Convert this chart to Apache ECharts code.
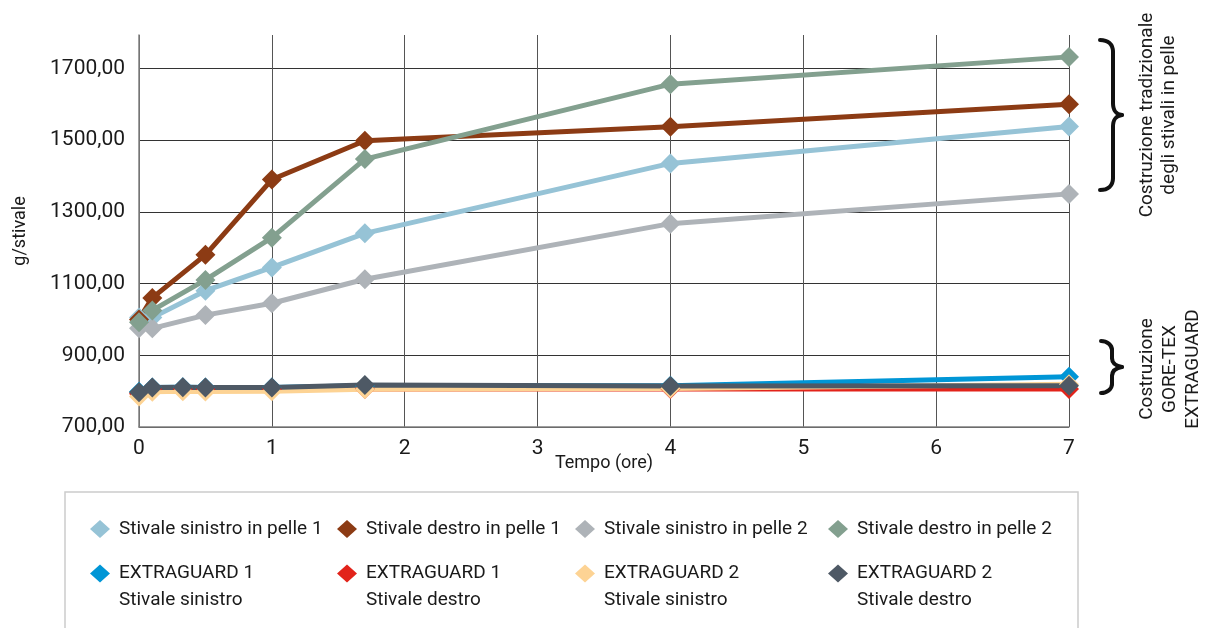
<!DOCTYPE html>
<html>
<head>
<meta charset="utf-8">
<script src="https://cdn.jsdelivr.net/npm/echarts@6/dist/echarts.min.js"></script>
<style>
html,body{margin:0;padding:0;background:#fff;}
#chart{width:1206px;height:628px;}
</style>
</head>
<body>
<div id="chart"></div>
<script>
// ---- data ----
const tempoPelle = [0, 0.1, 0.5, 1, 1.7, 4, 7];
const tempoGore = [0, 0.1, 0.33, 0.5, 1, 1.7, 4, 7];

const sinistroPelle1 = [1005, 1005, 1080, 1145, 1240, 1435, 1538];
const destroPelle1 = [1000, 1060, 1180, 1390, 1498, 1537, 1600];
const sinistroPelle2 = [975, 975, 1012, 1045, 1112, 1267, 1350];
const destroPelle2 = [992, 1025, 1110, 1228, 1447, 1656, 1732];

const eg1Sinistro = [798, 810, 811, 810, 810, 815, 815, 840];
const eg1Destro = [793, 806, 806, 806, 806, 806, 806, 806];
const eg2Sinistro = [785, 798, 800, 799, 800, 805, 807, 819];
const eg2Destro = [797, 810, 811, 810, 810, 817, 814, 815];

const seriesNames = [
  'Stivale sinistro in pelle 1', 'Stivale destro in pelle 1',
  'Stivale sinistro in pelle 2', 'Stivale destro in pelle 2',
  'EXTRAGUARD 1\nStivale sinistro', 'EXTRAGUARD 1\nStivale destro',
  'EXTRAGUARD 2\nStivale sinistro', 'EXTRAGUARD 2\nStivale destro'
];
const xTicks = [0, 1, 2, 3, 4, 5, 6, 7];
const yTicks = [700, 900, 1100, 1300, 1500, 1700];
const yAxisName = 'g/stivale';
const xAxisName = 'Tempo (ore)';
const braceText1 = 'Costruzione tradizionale\ndegli stivali in pelle';
const braceText2 = 'Costruzione\nGORE-TEX\nEXTRAGUARD';

// ---- styles ----
const colors = ['#96C3D6', '#8C3B14', '#AEB3B8', '#83A08F', '#0096D6', '#E2231A', '#FDD394', '#4E5965'];
const seriesValues = [sinistroPelle1, destroPelle1, sinistroPelle2, destroPelle2, eg1Sinistro, eg1Destro, eg2Sinistro, eg2Destro];
const seriesTimes = [tempoPelle, tempoPelle, tempoPelle, tempoPelle, tempoGore, tempoGore, tempoGore, tempoGore];

const series = seriesNames.map((name, i) => ({
  name: name,
  type: 'line',
  data: seriesTimes[i].map((t, j) => [t, seriesValues[i][j]]),
  symbol: 'diamond',
  symbolSize: 20,
  showAllSymbol: true,
  color: colors[i],
  lineStyle: { width: 5, color: colors[i] },
  itemStyle: { color: colors[i] },
  emphasis: { disabled: true },
  animation: false
}));

const legendLefts = [90, 337, 575, 828];
const legendFont = { fontFamily: 'Roboto', fontSize: 19, color: '#1a1a1a', padding: [0, 0, 0, 4] };
const legends = seriesNames.map((name, i) => {
  const row = i < 4 ? 0 : 1;
  return {
    data: [name],
    left: legendLefts[i % 4],
    top: row === 0 ? 518 : 533,
    padding: 0,
    icon: 'diamond',
    itemWidth: 20,
    itemHeight: 18,
    selectedMode: false,
    formatter: row === 0 ? '{name}' : (n => '\n' + n),
    textStyle: Object.assign({ lineHeight: row === 0 ? 22 : 27 }, legendFont)
  };
});

// brace drawn from bezier pieces: (xl = hook x, xs = stem x, xt = tip x, y0 top, ym tip, y1 bottom, r = curve size)
function brace(xl, xs, xt, y0, ym, y1, r) {
  const st = { fill: 'none', stroke: '#111', lineWidth: 4, lineCap: 'round' };
  const mk = (s) => ({ type: 'bezierCurve', silent: true, shape: s, style: st });
  const ln = (a, b) => ({ type: 'line', silent: true, shape: { x1: xs, y1: a, x2: xs, y2: b }, style: st });
  return [
    mk({ x1: xl, y1: y0, cpx1: xs - 5, cpy1: y0, cpx2: xs, cpy2: y0 + 4, x2: xs, y2: y0 + r }),
    ln(y0 + r, ym - r),
    mk({ x1: xs, y1: ym - r, cpx1: xs, cpy1: ym - 4, cpx2: xt - 6, cpy2: ym - 1, x2: xt, y2: ym }),
    mk({ x1: xt, y1: ym, cpx1: xt - 6, cpy1: ym + 1, cpx2: xs, cpy2: ym + 4, x2: xs, y2: ym + r }),
    ln(ym + r, y1 - r),
    mk({ x1: xs, y1: y1 - r, cpx1: xs, cpy1: y1 - 4, cpx2: xs - 5, cpy2: y1, x2: xl, y2: y1 })
  ];
}

const chart = echarts.init(document.getElementById('chart'), null, { renderer: 'canvas' });
chart.setOption({
  backgroundColor: '#ffffff',
  animation: false,
  grid: { left: 139, right: 137, top: 35, bottom: 201 },
  xAxis: {
    type: 'value',
    min: xTicks[0],
    max: xTicks[xTicks.length - 1],
    interval: 1,
    name: xAxisName,
    nameLocation: 'middle',
    nameGap: 27,
    nameMoveOverlap: false,
    nameTextStyle: { fontFamily: 'Roboto', fontSize: 18, color: '#1a1a1a' },
    axisLine: { lineStyle: { color: '#808080', width: 1.5 } },
    axisTick: { show: false },
    axisLabel: { fontFamily: 'Roboto', fontSize: 21, color: '#1a1a1a', margin: 11 },
    splitLine: { show: true, lineStyle: { color: '#555', width: 1 } }
  },
  yAxis: {
    type: 'value',
    min: yTicks[0],
    max: 1793,
    interval: 200,
    name: yAxisName,
    nameLocation: 'middle',
    nameRotate: 90,
    nameGap: 110,
    nameMoveOverlap: false,
    nameTextStyle: { fontFamily: 'Roboto', fontSize: 18, color: '#1a1a1a' },
    axisLine: { show: true, lineStyle: { color: '#808080', width: 1.5 } },
    axisTick: { show: false },
    axisLabel: {
      fontFamily: 'Roboto', fontSize: 21, color: '#1a1a1a', margin: 14,
      showMaxLabel: false,
      formatter: v => v.toFixed(2).replace('.', ',')
    },
    splitLine: { show: true, showMaxLine: false, lineStyle: { color: '#333', width: 1 } }
  },
  legend: legends,
  graphic: [
    {
      type: 'rect', silent: true, z: -1,
      shape: { x: 65, y: 492, width: 1013, height: 170 },
      style: { fill: 'none', stroke: '#cccccc', lineWidth: 1.5 }
    }
  ].concat(brace(1100, 1113, 1122, 40, 115, 190, 12))
   .concat(brace(1101, 1112, 1122, 341, 367, 393, 9))
   .concat([
    {
      type: 'text', silent: true,
      x: 1158, y: 115, rotation: Math.PI / 2,
      style: { text: braceText1, fontFamily: 'Roboto', fontSize: 19, lineHeight: 22, fill: '#1a1a1a', align: 'center', verticalAlign: 'middle' }
    },
    {
      type: 'text', silent: true,
      x: 1170, y: 369, rotation: Math.PI / 2,
      style: { text: braceText2, fontFamily: 'Roboto', fontSize: 19, lineHeight: 23, fill: '#1a1a1a', align: 'center', verticalAlign: 'middle' }
    }
  ]),
  series: series
});
</script>
</body>
</html>
